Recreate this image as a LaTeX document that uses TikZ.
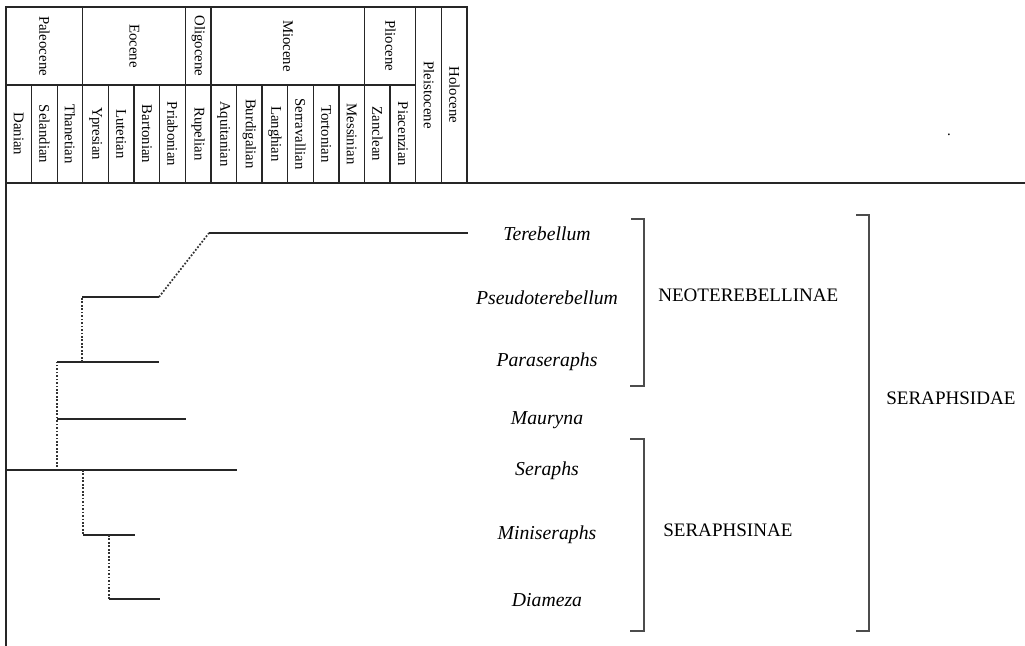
\documentclass[tikz,border=0pt]{standalone}
\usepackage{fontspec}
\setmainfont{Liberation Serif}

\begin{document}
\begin{tikzpicture}[x=0.75pt,y=-0.75pt,
    grid/.style={draw=black!85, line width=1pt},
    branch/.style={draw=black!85, line width=1pt},
    link/.style={draw=black!80, line width=1.3pt, dash pattern=on 1.3pt off 1.3pt},
    brack/.style={draw=black!70, line width=1.3pt},
    stage/.style={rotate=-90, inner sep=0pt, font=\fontsize{11.1}{13}\selectfont},
    taxon/.style={inner sep=0pt, font=\fontsize{14.8}{17}\selectfont\itshape},
    clade/.style={inner sep=0pt, anchor=west, font=\fontsize{14.3}{17}\selectfont}]

    \useasboundingbox (0,0) rectangle (1025,646);

    % time scale table
    \draw[grid] (6,646) -- (6,7) -- (467,7) -- (467,183);
    \draw[grid] (6,183) -- (1025,183);
    \draw[grid] (6,85) -- (416,85);
    \foreach \k in {1,...,17}
        \draw[grid] ({6+25.61*\k},85) -- ({6+25.61*\k},183);
    \foreach \k in {3,7,8,14,16,17}
        \draw[grid] ({6+25.61*\k},7) -- ({6+25.61*\k},85);

    \foreach \name [count=\i] in {Danian,Selandian,Thanetian,Ypresian,Lutetian,Bartonian,Priabonian,Rupelian,Aquitanian,Burdigalian,Langhian,Serravallian,Tortonian,Messinian,Zanclean,Piacenzian}
        \node[stage] (st\i) at ({6+25.61*(\i-0.5)},134) {\name};

    \node[stage] (paleo) at (44.5,46) {Paleocene};
    \node[stage] (eo) at (134.5,46) {Eocene};
    \node[stage] (oligo) at (198.5,46) {Oligocene};
    \node[stage] (mio) at (288,46) {Miocene};
    \node[stage] (plio) at (390.5,46) {Pliocene};
    \node[stage] (pleisto) at (429,95) {Pleistocene};
    \node[stage] (holo) at (454.5,95) {Holocene};
    \node[inner sep=0pt, anchor=base, font=\fontsize{11.1}{13}\selectfont] (dot) at (949,135) {.};

    % taxa
    \node[taxon] (tere) at (547,234) {Terebellum};
    \node[taxon] (pseudo) at (547,298) {Pseudoterebellum};
    \node[taxon] (para) at (547,362) {Paraseraphs};
    \node[taxon] (maur) at (547,420) {Mauryna};
    \node[taxon] (ser) at (547,471) {Seraphs};
    \node[taxon] (mini) at (547,535) {Miniseraphs};
    \node[taxon] (diam) at (547,600) {Diameza};

    % tree
    \coordinate (root) at (6,470);
    \coordinate (serEnd) at (237,470);
    \coordinate (k1) at (57,467);
    \coordinate (k2) at (57,419);
    \coordinate (k3) at (57,362);
    \coordinate (maurEnd) at (186,419);
    \coordinate (paraEnd) at (159,362);
    \coordinate (k4) at (82,362);
    \coordinate (k5) at (82,297);
    \coordinate (pseudoEnd) at (159,297);
    \coordinate (k6) at (209,233);
    \coordinate (tereEnd) at (468,233);
    \coordinate (k7) at (83,470);
    \coordinate (k8) at (83,535);
    \coordinate (miniEnd) at (135,535);
    \coordinate (k9) at (109,535);
    \coordinate (k10) at (109,599);
    \coordinate (diamEnd) at (160,599);

    \draw[branch] (root) -- (serEnd);
    \draw[link] (k1) -- (k3);
    \draw[branch] (k2) -- (maurEnd);
    \draw[branch] (k3) -- (paraEnd);
    \draw[link] (k4) -- (k5);
    \draw[branch] (k5) -- (pseudoEnd);
    \draw[link] (pseudoEnd) -- (k6);
    \draw[branch] (k6) -- (tereEnd);
    \draw[link] (k7) -- (k8);
    \draw[branch] (k8) -- (miniEnd);
    \draw[link] (k9) -- (k10);
    \draw[branch] (k10) -- (diamEnd);

    % groups
    \draw[brack] (631,219) -- (644,219) -- (644,386) -- (630,386);
    \draw[brack] (630,439) -- (644,439) -- (644,631) -- (630,631);
    \draw[brack] (856,215) -- (869,215) -- (869,631) -- (856,631);
    \node[clade] (neo) at (658,295) {NEOTEREBELLINAE};
    \node[clade] (sinae) at (663,530) {SERAPHSINAE};
    \node[clade] (idae) at (886,398) {SERAPHSIDAE};
\end{tikzpicture}
\end{document}
